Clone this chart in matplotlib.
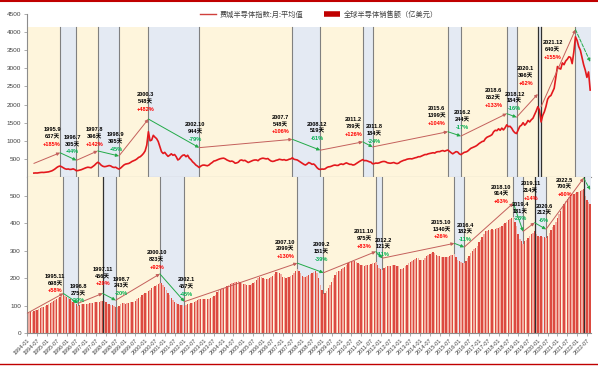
import matplotlib
matplotlib.use("Agg")
import matplotlib.pyplot as plt
from matplotlib.lines import Line2D

plt.rcParams['font.family'] = ['Liberation Sans', 'Noto Sans CJK SC']

# 全球半导体销售额（亿美元）, monthly 1994-01 .. 2022-09
sales = [
    73, 75, 77, 79, 82, 84, 86, 88, 91, 94, 97, 100,            # 1994
    103, 106, 110, 115, 118, 122, 125, 128, 133, 137, 140, 136,  # 1995
    131, 128, 125, 119, 115, 110, 105, 101, 104, 106, 107, 106,  # 1996
    106, 107, 109, 110, 111, 112, 113, 114, 115, 116, 119, 116,  # 1997
    113, 108, 106, 104, 102, 100, 96, 97, 101, 106, 109, 110,    # 1998
    108, 109, 111, 112, 113, 115, 119, 124, 128, 133, 138, 143,  # 1999
    145, 148, 152, 158, 164, 168, 172, 176, 180, 184, 182, 176,  # 2000
    167, 158, 148, 139, 130, 121, 113, 109, 106, 104, 103, 102,  # 2001
    101, 103, 105, 107, 109, 111, 114, 118, 121, 124, 126, 125,  # 2002
    125, 123, 124, 126, 129, 133, 136, 141, 149, 156, 160, 163,  # 2003
    165, 168, 172, 175, 178, 181, 184, 186, 188, 189, 186, 183,  # 2004
    180, 178, 176, 175, 176, 178, 182, 188, 195, 201, 204, 206,  # 2005
    200, 197, 196, 198, 201, 204, 208, 215, 222, 224, 220, 215,  # 2006
    206, 203, 202, 203, 205, 208, 213, 220, 228, 233, 225, 218,  # 2007
    210, 206, 205, 208, 212, 216, 220, 224, 228, 220, 200, 176,  # 2008
    158, 143, 147, 155, 165, 175, 185, 200, 212, 222, 226, 228,  # 2009
    232, 236, 242, 248, 254, 259, 262, 264, 262, 258, 254, 252,  # 2010
    250, 247, 246, 247, 249, 250, 252, 254, 256, 260, 248, 238,  # 2011
    233, 230, 236, 240, 243, 245, 246, 247, 248, 248, 246, 244,  # 2012
    235, 233, 238, 244, 250, 255, 259, 262, 266, 270, 273, 272,  # 2013
    268, 265, 268, 274, 280, 285, 289, 292, 294, 290, 285, 281,  # 2014
    280, 277, 276, 276, 277, 279, 281, 283, 285, 287, 276, 268,  # 2015
    262, 258, 256, 255, 262, 272, 282, 291, 298, 305, 310, 318,  # 2016
    330, 340, 350, 362, 370, 373, 375, 377, 378, 376, 378, 381,  # 2017
    382, 385, 390, 396, 402, 406, 410, 414, 418, 422, 405, 390,  # 2018
    360, 343, 335, 326, 335, 340, 345, 352, 360, 366, 371, 362,  # 2019
    355, 350, 352, 350, 349, 347, 355, 365, 375, 385, 395, 405,  # 2020
    420, 432, 445, 458, 470, 480, 488, 495, 502, 505, 508, 510,  # 2021
    512, 514, 518, 522, 525, 500, 485, 478, 470,                 # 2022
]

# 费城半导体指数:月:平均值, monthly 1994-05 .. 2022-09
sox_start = "1994.5"
sox = [
    108, 112, 110, 118, 124, 128, 125, 130,                                  # 1994
    135, 142, 155, 170, 195, 225, 262, 290, 303, 282, 255, 228,              # 1995
    215, 222, 208, 212, 225, 205, 172, 178, 190, 202, 222, 240,              # 1996
    258, 270, 262, 255, 290, 322, 368, 405, 382, 332, 300, 285,              # 1997
    290, 302, 316, 305, 276, 262, 270, 240, 218, 246, 290, 330,              # 1998
    355, 365, 375, 400, 430, 450, 470, 500, 540, 560, 600, 650,              # 1999
    720, 880, 1250, 1000, 1020, 1150, 1100, 1060, 980, 840, 700, 650,        # 2000
    680, 620, 570, 600, 640, 600, 620, 560, 470, 500, 560, 600,              # 2001
    610, 560, 600, 520, 480, 420, 380, 330, 300, 262, 300, 325,              # 2002
    330, 320, 310, 330, 370, 400, 440, 450, 470, 490, 505, 515,              # 2003
    520, 500, 470, 450, 430, 440, 420, 380, 390, 410, 460, 470,              # 2004
    450, 460, 430, 400, 420, 440, 460, 470, 470, 450, 490, 510,              # 2005
    520, 510, 500, 510, 470, 440, 430, 440, 460, 470, 490, 480,              # 2006
    470, 480, 460, 470, 490, 500, 530, 490, 480, 470, 440, 410,              # 2007
    380, 350, 330, 360, 400, 380, 350, 360, 320, 260, 220, 207,              # 2008
    220, 215, 225, 260, 280, 285, 300, 320, 330, 320, 320, 350,              # 2009
    360, 345, 370, 390, 370, 350, 350, 330, 340, 370, 400, 430,              # 2010
    455, 480, 450, 455, 440, 420, 410, 365, 370, 385, 380, 390,              # 2011
    410, 425, 430, 420, 395, 385, 380, 390, 400, 380, 370, 385,              # 2012
    420, 440, 460, 470, 490, 500, 505, 500, 515, 530, 540, 560,              # 2013
    560, 580, 600, 620, 620, 640, 650, 660, 670, 660, 690, 700,              # 2014
    700, 720, 730, 710, 730, 745, 710, 670, 640, 670, 700, 690,              # 2015
    640, 618, 650, 680, 690, 710, 750, 790, 810, 830, 850, 880,              # 2016
    920, 950, 980, 990, 1060, 1100, 1120, 1140, 1170, 1250, 1290, 1280,      # 2017
    1330, 1290, 1350, 1300, 1360, 1440, 1390, 1400, 1350, 1270, 1220, 1200,  # 2018
    1300, 1400, 1430, 1500, 1430, 1480, 1560, 1520, 1580, 1620, 1720, 1820,  # 2019
    1940, 1850, 1520, 1700, 1800, 1950, 2150, 2220, 2250, 2350, 2450, 2750,  # 2020
    3050, 3000, 2980, 3150, 3100, 3200, 3250, 3320, 3300, 3130, 3450, 3870,  # 2021
    3770, 3600, 3500, 3300, 3100, 2950, 2750, 2900, 2400,                    # 2022
]

# cycle turning points, upper chart (index)
top_dates = ["1995.9", "1996.7", "1997.8", "1998.9", "2000.3", "2002.10", "2007.7", "2008.12",
             "2011.2", "2011.8", "2015.6", "2016.2", "2018.6", "2018.12", "2020.1", "2021.12"]
top_days = ["637天", "305天", "396天", "395天", "548天", "944天", "548天", "519天",
            "789天", "184天", "1399天", "244天", "852天", "184天", "396天", "640天"]
top_pcts = ["+185%", "-44%", "+142%", "-45%", "+482%", "-79%", "+106%", "-61%",
            "+126%", "-24%", "+104%", "-17%", "+133%", "-16%", "+62%", "+155%"]
# arrow chains (dates and levels where the drawn arrows start / end)
top_chain1_dates = ["1994.5"] + top_dates[:15]
top_chain1_levels = [375, 670, 460, 720, 580, 1600, 810, 1040, 740, 970, 830, 1250, 1130, 1750, 1650, 2290]
top_chain2_dates = ["2020.3", "2021.12", "2022.9"]
top_chain2_levels = [1940, 4070, 3180]
top_shade_edges = ["1995.9", "1996.7", "1997.8", "1998.9", "2000.3", "2002.10", "2007.7", "2008.12",
                   "2011.2", "2011.8", "2015.6", "2016.2", "2018.6", "2018.12", "2020.1", "2020.3", "2021.12"]

# cycle turning points, lower chart (sales)
bot_dates = ["1995.11", "1996.8", "1997.11", "1998.7", "2000.10", "2002.1", "2007.10", "2009.2", "2011.10",
             "2012.2", "2015.10", "2016.4", "2018.10", "2019.4", "2019.11", "2020.6", "2022.5"]
bot_days = ["698天", "275天", "456天", "243天", "823天", "457天", "2099天", "151天", "975天",
            "121天", "1340天", "182天", "914天", "181天", "214天", "212天", "700天"]
bot_pcts = ["+58%", "-29%", "+20%", "-20%", "+92%", "-45%", "+130%", "-39%", "+83%",
            "-11%", "+26%", "-11%", "+63%", "-23%", "+14%", "-6%", "+60%"]
bot_chain_dates = ["1994.1"] + bot_dates + ["2022.9"]
bot_chain_levels = [73, 145, 109, 145, 120, 216, 115, 255, 220, 297, 273, 327, 313, 473, 370, 402, 378, 564, 521]

# label offsets in pixels (layout only)
top_offsets = [(-8, 6), (-4, 6), (-3, 4), (-3, 4), (-3, 7), (-4, 6), (-12, 5), (-3, 9), (-9, 5), (2, 3),
               (-11, 6), (1, 6), (-13, 6), (-2, 6), (-12, 8), (-23, -30)]
bot_offsets = [(-8, 0), (0, 0), (0, 7), (6, 4), (-3, 4), (2, 5), (-12, 4), (-2, 11), (-12, 3), (1, 1),
               (-13, 4), (1, 5), (-12, -1), (-3, 10), (-4, 22), (-2, 6), (-19, -19)]
# boundaries drawn darker in the original
dark_edges = ["2020.1", "2020.3", "1997.11", "2019.11", "2022.5"]


def midx(s):
    y, m = s.split(".")
    return (int(y) - 1994) * 12 + int(m) - 1


W, H = 598, 367
YELLOW = "#FEF5DC"
BLUE = "#E4EAF3"
UP = "#C4605C"
DOWN = "#22AA48"

fig = plt.figure(figsize=(W / 100, H / 100), dpi=100)
x0, x1 = 26.5, 591
ax1 = fig.add_axes([x0 / W, 1 - 177 / H, (x1 - x0) / W, (177 - 14) / H])
ax2 = fig.add_axes([x0 / W, 1 - 333.3 / H, (x1 - x0) / W, (333.3 - 177) / H])
n = len(sales)
xlim = (-0.5, n - 0.5)


def shade(ax, edges, top):
    pts = [xlim[0]] + [midx(e) for e in edges] + [xlim[1]]
    for k in range(len(pts) - 1):
        ax.axvspan(pts[k], pts[k + 1], ymin=0, ymax=top, color=YELLOW if k % 2 == 0 else BLUE, lw=0, zorder=0)
    for e in edges:
        dark = e in dark_edges
        ax.axvline(midx(e), ymin=0, ymax=top, color="#303030" if dark else "#808080",
                   lw=0.9 if dark else 0.8, zorder=2.5 if dark else 1)


def chain(ax, dates, levels, dashed_last=False):
    for k in range(len(dates) - 1):
        xa, xb = midx(dates[k]), midx(dates[k + 1])
        ya, yb = levels[k], levels[k + 1]
        c = UP if yb > ya else DOWN
        ls = "--" if (dashed_last and k == len(dates) - 2) else "-"
        ax.annotate("", xy=(xb, yb), xytext=(xa, ya),
                    arrowprops=dict(arrowstyle="-|>", color=c, lw=0.7, mutation_scale=4.5,
                                    shrinkA=0, shrinkB=0, linestyle=ls), zorder=4)


def labels(ax, dates, days, pcts, levels, offsets):
    for d, dy_txt, p, lv, (dx, dy) in zip(dates, days, pcts, levels, offsets):
        pt = (midx(d), lv)
        for k, (t, c) in enumerate([(d, "black"), (dy_txt, "black"), (p, "#FF0000" if p[0] == "+" else "#00B050")]):
            ax.annotate(t, xy=pt, xytext=(dx, dy + (2 - k) * 7.3), textcoords="offset pixels",
                        ha="center", va="bottom", fontsize=4.1, fontweight="bold", color=c, zorder=6)


# upper chart
ymax1 = 4500
shade(ax1, top_shade_edges, 4130 / ymax1)
ax1.plot(range(midx(sox_start), midx(sox_start) + len(sox)), sox, color="#E3181D", lw=1.2, zorder=3)
chain(ax1, top_chain1_dates, top_chain1_levels)
chain(ax1, top_chain2_dates, top_chain2_levels, dashed_last=True)
labels(ax1, top_dates, top_days, top_pcts, top_chain1_levels[1:] + [top_chain2_levels[1]], top_offsets)
ax1.set_xlim(*xlim)
ax1.set_ylim(0, ymax1)
ax1.set_yticks(range(500, 4501, 500))
ax1.set_xticks([])

# lower chart
shade(ax2, bot_dates, 1.0)
bar_colors = ["#DC4A40" if i % 2 == 0 else "#F2ADA2" for i in range(n)]
ax2.bar(range(n), sales, width=0.85, color=bar_colors, lw=0, zorder=2)
chain(ax2, bot_chain_dates, bot_chain_levels, dashed_last=True)
labels(ax2, bot_dates, bot_days, bot_pcts, bot_chain_levels[1:-1], bot_offsets)
ax2.set_xlim(*xlim)
ax2.set_ylim(0, 568)
ax2.set_yticks(range(0, 501, 100))
ticks = list(range(0, n, 6))
ax2.set_xticks(ticks)
ax2.set_xticklabels([f"{1994 + i // 12}-{i % 12 + 1:02d}" for i in ticks], rotation=45,
                    ha="right", rotation_mode="anchor", fontsize=4.0, color="#404040")

for ax in (ax1, ax2):
    ax.set_facecolor("white")
    for s in ("top", "right"):
        ax.spines[s].set_visible(False)
    for s in ("left", "bottom"):
        ax.spines[s].set_color("#8C8C8C")
        ax.spines[s].set_linewidth(0.8)
    ax.tick_params(axis="y", labelsize=4.6, labelcolor="#404040", length=2, width=0.5, color="#8C8C8C", pad=2)
    ax.tick_params(axis="x", length=2, width=0.5, color="#8C8C8C", pad=1)

handles = [Line2D([], [], color="#D0403C", lw=1.0),
           Line2D([], [], color="#C00000", lw=4, solid_capstyle="butt")]
fig.legend(handles, ["费城半导体指数:月:平均值", "全球半导体销售额（亿美元）"], loc="center",
           bbox_to_anchor=(319 / W, 1 - 15 / H), ncol=2, frameon=False,
           prop={"family": ["Noto Sans CJK SC"], "size": 5.2}, labelcolor="#404040",
           handlelength=2.3, columnspacing=2.8, handletextpad=0.5)

fig.add_artist(Line2D([0, 1], [1 - 1 / H] * 2, transform=fig.transFigure, color="#C00000", lw=1.5))
fig.add_artist(Line2D([0, 1], [1 - 364 / H] * 2, transform=fig.transFigure, color="#C00000", lw=1.0))

fig.savefig("out.png", dpi=100)
